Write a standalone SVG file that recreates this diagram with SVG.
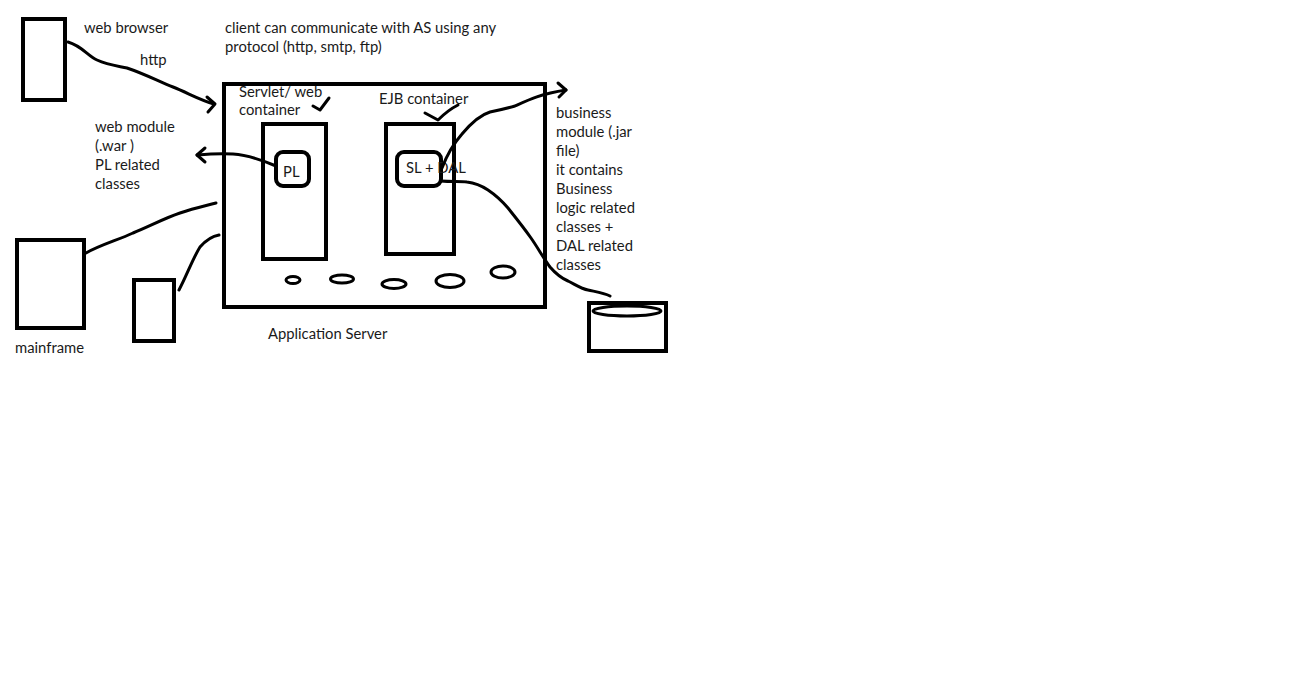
<svg xmlns="http://www.w3.org/2000/svg" width="1303" height="693" viewBox="0 0 1303 693">
<style>
.box{fill:none;stroke:#000;stroke-width:4}
.ov{fill:none;stroke:#000;stroke-width:3}
.ln{fill:none;stroke:#000;stroke-width:3;stroke-linecap:round;stroke-linejoin:round}
text{font-family:Lato,"Liberation Sans",sans-serif;font-size:14.8px;fill:#1a1a1a}
</style>
<rect width="1303" height="693" fill="#fff"/>
<g id="web-browser">
<rect class="box" x="23" y="19" width="42" height="81"/>
<text x="84" y="33">web browser</text>
</g>
<g id="note-protocol">
<text x="225" y="33">client can communicate with AS using any</text>
<text x="225" y="52">protocol (http, smtp, ftp)</text>
</g>
<g id="mainframe">
<rect class="box" x="17" y="240" width="67" height="88"/>
<text x="15" y="353">mainframe</text>
</g>
<g id="small-client">
<rect class="box" x="134" y="280" width="40" height="61"/>
</g>
<g id="app-server">
<rect class="box" x="224" y="84" width="321" height="223"/>
<text x="268" y="339">Application Server</text>
<ellipse class="ov" cx="293" cy="280" rx="7" ry="3.5"/>
<ellipse class="ov" cx="342" cy="279" rx="11.5" ry="4"/>
<ellipse class="ov" cx="394" cy="284" rx="12" ry="4.5"/>
<ellipse class="ov" cx="450" cy="281" rx="14" ry="6.5"/>
<ellipse class="ov" cx="503" cy="272" rx="12" ry="6"/>
</g>
<g id="web-container">
<rect class="box" x="263" y="124" width="63" height="135"/>
<text x="239" y="97">Servlet/ web</text>
<text x="239" y="115">container</text>
</g>
<g id="pl">
<rect class="box" x="276" y="152" width="33" height="34" rx="7"/>
<text x="283" y="177">PL</text>
</g>
<g id="ejb-container">
<rect class="box" x="386" y="124" width="68" height="130"/>
<text x="379" y="104">EJB container</text>
</g>
<g id="sl-dal">
<rect class="box" x="397" y="152" width="44" height="34" rx="7"/>
<text x="406" y="173">SL + DAL</text>
</g>
<g id="web-module-note">
<text x="95" y="132">web module</text>
<text x="95" y="151">(.war )</text>
<text x="95" y="170">PL related</text>
<text x="95" y="189">classes</text>
</g>
<g id="business-module-note">
<text x="556" y="118">business</text>
<text x="556" y="137">module (.jar</text>
<text x="556" y="156">file)</text>
<text x="556" y="175">it contains</text>
<text x="556" y="194">Business</text>
<text x="556" y="213">logic related</text>
<text x="556" y="232">classes +</text>
<text x="556" y="251">DAL related</text>
<text x="556" y="270">classes</text>
</g>
<g id="database">
<rect class="box" x="589" y="303" width="77" height="48"/>
<ellipse class="ov" cx="627" cy="311" rx="34" ry="5"/>
</g>
<g id="connectors">
<path class="ln" d="M68,42 C82,46 88,56 97,60 C108,65 118,66 127,68 C145,74 160,82 173,87 C188,93 200,100 214,104"/>
<path class="ln" d="M207,97 L215,104 L208,112"/>
<text x="140" y="65">http</text>
<path class="ln" d="M276,166 C262,160 248,155 233,154 C220,153 208,154 197,155"/>
<path class="ln" d="M205,148 L197,155 L205,162"/>
<path class="ln" d="M86,253 C100,245 118,240 133,233 C150,226 165,218 180,213 C195,208 205,206 216,203"/>
<path class="ln" d="M179,290 C187,275 193,258 200,247 C207,239 213,236 219,235"/>
<path class="ln" d="M313,106 L320,110 L329,98"/>
<path class="ln" d="M425,113 L438,120 C446,112 452,108 458,105"/>
<path class="ln" d="M442,168 C448,152 455,142 462,134 C472,122 480,115 490,112 C500,110 508,108 515,106 C528,100 540,94 566,90"/>
<path class="ln" d="M558,83 L566,90 L559,97"/>
<path class="ln" d="M441,181 C452,182 460,181 467,182 C476,183 482,186 488,190 C497,196 502,201 508,208 C516,218 524,228 531,238 C538,248 544,259 550,267 C556,274 561,278 568,281 C576,285 582,289 588,290 C597,292 604,293 610,296"/>
</g>
</svg>
